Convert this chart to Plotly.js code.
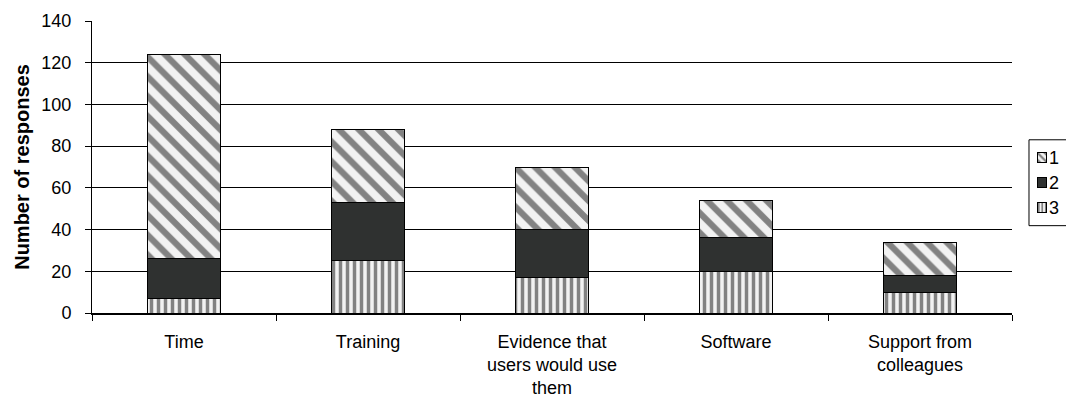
<!DOCTYPE html>
<html>
<head>
<meta charset="utf-8">
<script src="https://cdn.plot.ly/plotly-3.0.1.min.js"></script>
<style>html,body{margin:0;padding:0;background:#fff;}#chart{width:1066px;height:402px;}</style>
</head>
<body>
<div id="chart"></div>
<script>
var categories = ["Time", "Training", "Evidence that<br>users would use<br>them", "Software", "Support from<br>colleagues"];
var series1 = [98, 35, 30, 18, 16];
var series2 = [19, 28, 23, 16, 8];
var series3 = [7, 25, 17, 20, 10];
var seriesNames = ["1", "2", "3"];
var yTicks = [0, 20, 40, 60, 80, 100, 120, 140];
var swatchValue = [1];

var fg = "#111111", bg = "#f2f2f2", solid = "#2f3130";
var diag = {shape: "\\", fgcolor: fg, bgcolor: bg, size: 14, solidity: 0.45, fillmode: "overlay"};
var vert = {shape: "|", fgcolor: fg, bgcolor: bg, size: 7, solidity: 0.5, fillmode: "overlay"};
var diagSmall = {shape: "\\", fgcolor: fg, bgcolor: bg, size: 5, solidity: 0.45, fillmode: "overlay"};
var vertSmall = {shape: "|", fgcolor: fg, bgcolor: bg, size: 3.5, solidity: 0.5, fillmode: "overlay"};

var traces = [
  {type: "bar", name: seriesNames[2], x: categories, y: series3, showlegend: false,
   marker: {color: bg, line: {color: "#000", width: 1}, pattern: vert}},
  {type: "bar", name: seriesNames[1], x: categories, y: series2, showlegend: false,
   marker: {color: solid, line: {color: "#000", width: 1}}},
  {type: "bar", name: seriesNames[0], x: categories, y: series1, showlegend: false,
   marker: {color: bg, line: {color: "#000", width: 1}, pattern: diag}},
  // legend swatches
  {type: "bar", orientation: "h", xaxis: "x2", yaxis: "y2", showlegend: false,
   x: swatchValue, y: [seriesNames[0]], marker: {color: bg, line: {color: "#000", width: 1}, pattern: diagSmall}},
  {type: "bar", orientation: "h", xaxis: "x2", yaxis: "y2", showlegend: false,
   x: swatchValue, y: [seriesNames[1]], marker: {color: solid, line: {color: "#000", width: 1}}},
  {type: "bar", orientation: "h", xaxis: "x2", yaxis: "y2", showlegend: false,
   x: swatchValue, y: [seriesNames[2]], marker: {color: bg, line: {color: "#000", width: 1}, pattern: vertSmall}}
];

var layout = {
  width: 1066, height: 402,
  margin: {l: 92, r: 0, t: 21, b: 88.5},
  barmode: "stack",
  bargap: 0.6,
  paper_bgcolor: "#fff",
  plot_bgcolor: "rgba(0,0,0,0)",
  font: {family: "'Liberation Sans', Arial, sans-serif", size: 18, color: "#000"},
  showlegend: false,
  xaxis: {
    type: "category", domain: [0, 0.94456],
    showline: true, linecolor: "#000", linewidth: 2,
    ticks: "outside", tickson: "boundaries", ticklen: 6, tickcolor: "#000",
    ticklabelstandoff: 11,
    showgrid: false, tickfont: {size: 18}
  },
  yaxis: {
    range: [0, 140], tickvals: yTicks, ticktext: yTicks.map(String),
    showline: true, linecolor: "#000", linewidth: 1,
    ticks: "outside", ticklen: 6, tickcolor: "#000",
    ticklabelstandoff: 10,
    showgrid: true, gridcolor: "#000", gridwidth: 1,
    zeroline: false, tickfont: {size: 18},
    title: {text: "<b>Number of responses</b>", font: {size: 20}, standoff: 6}
  },
  xaxis2: {
    domain: [0.97023, 0.98049], anchor: "y2", range: [0, 1],
    visible: false, fixedrange: true
  },
  yaxis2: {
    domain: [0.3179, 0.5744], anchor: "x2", type: "category",
    categoryorder: "array", categoryarray: [seriesNames[2], seriesNames[1], seriesNames[0]],
    range: [-0.5, 2.5], side: "right",
    showline: false, showgrid: false, zeroline: false, ticks: "",
    ticklabelstandoff: 1, tickfont: {size: 18}
  },
  shapes: [
    {type: "rect", xref: "paper", yref: "paper", layer: "below",
     x0: 0.9620, x1: 1.2, y0: 0.2991, y1: 0.5932,
     line: {color: "#000", width: 1}, fillcolor: "#fff"}
  ]
};

Plotly.newPlot("chart", traces, layout, {displayModeBar: false, staticPlot: true});
</script>
</body>
</html>
